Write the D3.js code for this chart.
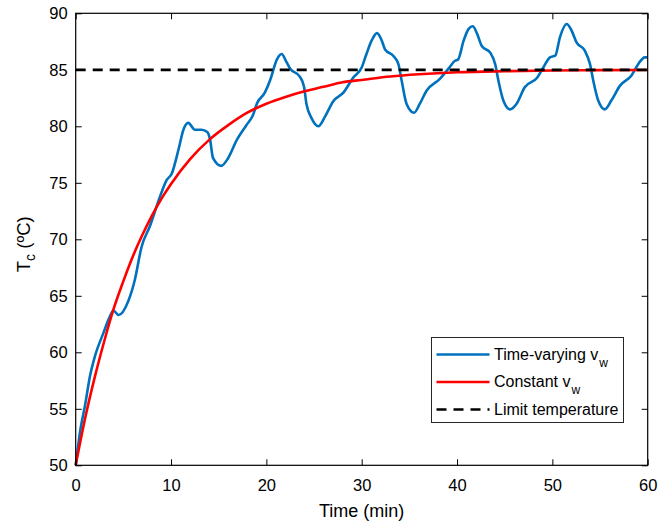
<!DOCTYPE html>
<html>
<head>
<meta charset="utf-8">
<script src="https://cdn.jsdelivr.net/npm/d3@7"></script>
<style>
  body { margin: 0; background: #fff; }
  svg text { font-family: "Liberation Sans", Arial, Helvetica, sans-serif; fill: #000; }
</style>
</head>
<body>
<div id="chart"></div>
<script>
// Data
const timeVarT = [0, 0.5, 1, 1.5, 2, 2.9, 3.5, 3.95, 4.5, 5.5, 6.2, 6.9, 7.8, 8.85, 9.55, 10.07, 10.77, 11.3, 11.8, 12.5, 13.2, 13.8, 14.1, 14.4, 15.25, 16.0, 16.9, 17.9, 18.6, 19.0, 19.85, 20.4, 21.1, 21.6, 22.1, 22.5, 23.5, 23.95, 24.2, 24.75, 25.45, 26.15, 27.0, 28.1, 29.1, 30.0, 30.5, 31.05, 31.6, 32.1, 32.45, 33.3, 33.85, 34.2, 34.7, 35.5, 36.1, 36.8, 38.2, 39.1, 39.8, 40.1, 40.7, 41.2, 41.65, 42.1, 42.6, 43.5, 44.0, 44.35, 44.85, 45.55, 46.25, 47.1, 48.4, 49.05, 49.75, 50.3, 50.8, 51.5, 52.0, 52.55, 53.4, 53.95, 54.3, 54.8, 55.5, 56.2, 57.1, 58.3, 59.0, 59.7, 60]
const timeVarTc = [50, 53.2, 55.4, 57.9, 59.6, 61.7, 63.0, 63.7, 63.3, 64.5, 66.4, 69.3, 71.2, 73.8, 75.25, 75.8, 77.9, 79.7, 80.3, 79.7, 79.7, 79.5, 78.8, 77.2, 76.5, 77.2, 78.8, 80.1, 81.0, 82.0, 83.0, 84.1, 85.9, 86.4, 85.7, 85.1, 84.4, 83.5, 82.0, 80.7, 80.0, 80.85, 82.2, 83.0, 84.3, 85.2, 86.4, 87.6, 88.25, 87.6, 86.8, 86.25, 85.5, 84.0, 82.0, 81.2, 82.0, 83.15, 84.2, 85.1, 85.8, 85.9, 87.6, 88.6, 88.85, 88.2, 87.1, 86.5, 85.5, 84.0, 82.3, 81.5, 82.0, 83.45, 84.3, 85.2, 86.1, 86.25, 87.9, 89.05, 88.5, 87.4, 86.7, 85.5, 84.0, 82.3, 81.5, 82.3, 83.6, 84.5, 85.5, 86.1, 86.1]

const constT  = [0, 1, 2, 3, 4, 5, 6, 7, 8, 9, 10, 12, 14, 16, 18, 20, 22, 24, 26, 28, 30, 33, 36, 40, 45, 50, 55, 60]
const constTc = [50, 54.2, 57.8, 61.0, 63.9, 66.3, 68.5, 70.4, 72.1, 73.6, 74.9, 77.1, 78.8, 80.1, 81.2, 82.0, 82.6, 83.1, 83.5, 83.9, 84.1, 84.4, 84.6, 84.78, 84.88, 84.94, 84.97, 84.98]

const limitTemp = 85
const xTicks = [0, 10, 20, 30, 40, 50, 60]
const yTicks = [50, 55, 60, 65, 70, 75, 80, 85, 90]

const timeVarying = timeVarT.map((t, i) => ({ t: t, v: timeVarTc[i] }))
const constant = constT.map((t, i) => ({ t: t, v: constTc[i] }))

// Dimensions
const dims = { width: 672, height: 524, left: 75.7, right: 24.3, top: 13.3, bottom: 58.7 }
dims.ctrWidth = dims.width - dims.left - dims.right
dims.ctrHeight = dims.height - dims.top - dims.bottom

const svg = d3.select('#chart').append('svg')
  .attr('width', dims.width)
  .attr('height', dims.height)

const ctr = svg.append('g')
  .attr('transform', `translate(${dims.left}, ${dims.top})`)

// Scales
const xScale = d3.scaleLinear().domain([0, 60]).range([0, dims.ctrWidth])
const yScale = d3.scaleLinear().domain([50, 90]).range([dims.ctrHeight, 0])

// Lines
const line = d3.line()
  .x(d => xScale(d.t))
  .y(d => yScale(d.v))
  .curve(d3.curveMonotoneX)

ctr.append('path')
  .datum(timeVarying)
  .attr('d', line)
  .attr('fill', 'none')
  .attr('stroke', '#0072BD')
  .attr('stroke-width', 2.6)

ctr.append('path')
  .datum(constant)
  .attr('d', line)
  .attr('fill', 'none')
  .attr('stroke', '#FF0000')
  .attr('stroke-width', 2.6)

ctr.append('line')
  .attr('x1', xScale(0)).attr('x2', xScale(60))
  .attr('y1', yScale(limitTemp)).attr('y2', yScale(limitTemp))
  .attr('stroke', '#000')
  .attr('stroke-width', 2.8)
  .attr('stroke-dasharray', '10,7')

// Axes (ticks point inward, box on)
const tickLen = 6
const xAxis = d3.axisBottom(xScale).tickValues(xTicks).tickSizeInner(-tickLen).tickSizeOuter(0).tickPadding(14)
const yAxis = d3.axisLeft(yScale).tickValues(yTicks).tickSizeInner(-tickLen).tickSizeOuter(0).tickPadding(8)
const xTop = d3.axisTop(xScale).tickValues(xTicks).tickSizeInner(-tickLen).tickSizeOuter(0).tickFormat('')
const yRight = d3.axisRight(yScale).tickValues(yTicks).tickSizeInner(-tickLen).tickSizeOuter(0).tickFormat('')

const styleAxis = g => {
  g.select('.domain').remove()
  g.selectAll('line').attr('stroke', '#000').attr('stroke-width', 1)
  g.selectAll('text').style('font-size', '16.5px').attr('fill', '#000')
}

ctr.append('g').attr('transform', `translate(0, ${dims.ctrHeight})`).call(xAxis).call(styleAxis)
ctr.append('g').call(yAxis).call(styleAxis)
ctr.append('g').call(xTop).call(styleAxis)
ctr.append('g').attr('transform', `translate(${dims.ctrWidth}, 0)`).call(yRight).call(styleAxis)

ctr.append('rect')
  .attr('x', 0).attr('y', 0)
  .attr('width', dims.ctrWidth).attr('height', dims.ctrHeight)
  .attr('fill', 'none')
  .attr('stroke', '#000')
  .attr('stroke-width', 1.2)

// Axis labels
svg.append('text')
  .attr('x', dims.left + dims.ctrWidth / 2)
  .attr('y', 517)
  .attr('text-anchor', 'middle')
  .style('font-size', '18px')
  .text('Time (min)')

const yLabel = svg.append('text')
  .attr('transform', `translate(30, ${dims.top + dims.ctrHeight / 2 + 5}) rotate(-90)`)
  .attr('text-anchor', 'middle')
  .style('font-size', '18.5px')
yLabel.append('tspan').text('T')
yLabel.append('tspan').attr('dy', 5).style('font-size', '14px').text('c')
yLabel.append('tspan').attr('dy', -5).text(' (ºC)')

// Legend
const legend = svg.append('g').attr('transform', 'translate(431.5, 337.5)')
legend.append('rect')
  .attr('width', 192).attr('height', 85)
  .attr('fill', '#fff')
  .attr('stroke', '#262626')
  .attr('stroke-width', 1)

const legendItems = [
  { name: 'Time-varying v', sub: 'w', color: '#0072BD', dash: null },
  { name: 'Constant v', sub: 'w', color: '#FF0000', dash: null },
  { name: 'Limit temperature', sub: null, color: '#000', dash: '10,7' },
]
legendItems.forEach((item, i) => {
  const y = 17 + i * 27.5
  legend.append('line')
    .attr('x1', 5).attr('x2', 58)
    .attr('y1', y).attr('y2', y)
    .attr('stroke', item.color)
    .attr('stroke-width', 2.6)
    .attr('stroke-dasharray', item.dash)
  const txt = legend.append('text')
    .attr('x', 62.5).attr('y', y + 5)
    .style('font-size', '16px')
  txt.append('tspan').text(item.name)
  if (item.sub) {
    txt.append('tspan').attr('dy', 7).attr('dx', 1).style('font-size', '12px').text(item.sub)
  }
})
</script>
</body>
</html>
